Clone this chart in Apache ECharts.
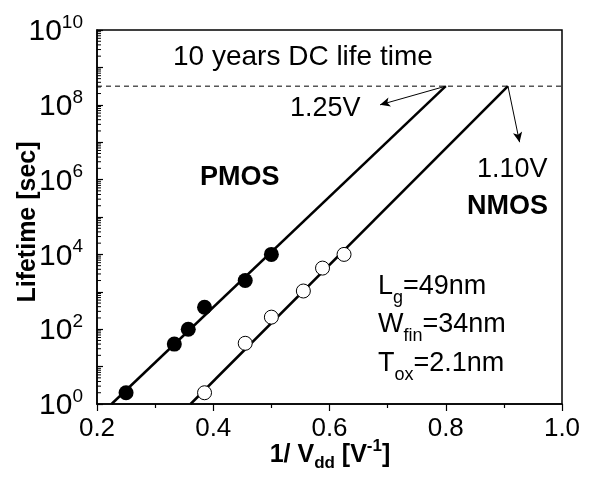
<!DOCTYPE html>
<html>
<head>
<meta charset="utf-8">
<script src="https://cdn.jsdelivr.net/npm/echarts@6/dist/echarts.min.js"></script>
<style>html,body{margin:0;padding:0;background:#fff}#c{width:593px;height:477px}</style>
</head>
<body>
<div id="c"></div>
<script>
// ---- data ----
const pmosX = [0.25, 0.333, 0.357, 0.385, 0.455, 0.5];
const pmosY = [2, 40, 100, 385, 2000, 10000];
const nmosX = [0.385, 0.455, 0.5, 0.555, 0.588, 0.625];
const nmosY = [2, 42, 210, 1050, 4300, 10000];
const pmosFitX = [0.225, 0.8];
const pmosFitY = [1, 3.15e8];
const nmosFitX = [0.361, 0.907];
const nmosFitY = [1, 3.15e8];
const tenYears = 3.15e8;           // 10 years DC life time [s]
const limitX = [0.2, 1.0];
const arrowP = [[0.8, 3.15e8], [0.687, 1e8]];
const arrowN = [[0.907, 3.15e8], [0.927, 1e7]];
const xTicks = [0.2, 0.4, 0.6, 0.8, 1.0];
const yDecades = [0,1,2,3,4,5,6,7,8,9,10];
const yLabelDecades = [0, 2, 4, 6, 8, 10];
const minorMult = [2,3,4,5,6,7,8,9];

const FONT = '"Liberation Sans", Arial, Helvetica, sans-serif';
const zip = (xs, ys) => xs.map((x, i) => [x, ys[i]]);

const minorVals = [];
yDecades.slice(0, -1).forEach(k => minorMult.forEach(m => minorVals.push([0.2, m * Math.pow(10, k)])));

const chart = echarts.init(document.getElementById('c'));
chart.setOption({
  animation: false,
  backgroundColor: '#fff',
  grid: { left: 97, right: 31, top: 30, bottom: 73, show: true, borderColor: '#000', borderWidth: 1.5 },
  xAxis: {
    type: 'value', min: xTicks[0], max: xTicks[xTicks.length - 1], interval: 0.2,
    axisLine: { lineStyle: { color: '#000', width: 1.5 } },
    axisTick: { inside: false, length: 7, lineStyle: { color: '#000', width: 1.2 } },
    minorTick: { show: true, splitNumber: 2, length: 4, lineStyle: { color: '#000', width: 1.2 } },
    splitLine: { show: false },
    axisLabel: { color: '#000', fontSize: 26, fontFamily: FONT, margin: 12, formatter: v => v.toFixed(1) }
  },
  yAxis: {
    type: 'log', logBase: 10, min: 1, max: 1e10, interval: 1,
    axisLine: { lineStyle: { color: '#000', width: 1.5 } },
    axisTick: { inside: true, length: 6, lineStyle: { color: '#000', width: 1.2 } },
    splitLine: { show: false },
    axisLabel: {
      margin: 14, color: '#000', fontFamily: FONT,
      formatter: v => {
        const n = Math.round(Math.log10(v));
        return yLabelDecades.indexOf(n) >= 0 ? '{b|10}{s|' + n + '}' : '';
      },
      rich: {
        b: { fontSize: 30, fontFamily: FONT, color: '#000', lineHeight: 34, verticalAlign: 'bottom' },
        s: { fontSize: 19, fontFamily: FONT, color: '#000', lineHeight: 34, verticalAlign: 'top', padding: [0, 0, 14, 0] }
      }
    }
  },
  series: [
    { type: 'custom', data: minorVals, silent: true, z: 20, clip: false,
      encode: { x: 0, y: 1 },
      renderItem: (params, api) => {
        const p = api.coord([api.value(0), api.value(1)]);
        return { type: 'line', shape: { x1: p[0], y1: p[1], x2: p[0] + 4, y2: p[1] },
                 style: { stroke: '#000', lineWidth: 1 } };
      } },
    { type: 'line', data: zip(limitX, [tenYears, tenYears]), symbol: 'none', silent: true,
      lineStyle: { color: '#000', width: 1, type: [5, 4] },
      markLine: {
        silent: true, symbol: ['none', 'arrow'], symbolSize: [7, 10],
        label: { show: false },
        lineStyle: { color: '#000', width: 1, type: 'solid' },
        data: [
          [{ coord: arrowP[0] }, { coord: arrowP[1] }],
          [{ coord: arrowN[0] }, { coord: arrowN[1] }]
        ]
      } },
    { type: 'line', data: zip(pmosFitX, pmosFitY), symbol: 'none', lineStyle: { color: '#000', width: 2.5 } },
    { type: 'line', data: zip(nmosFitX, nmosFitY), symbol: 'none', lineStyle: { color: '#000', width: 2.5 } },
    { type: 'scatter', data: zip(pmosX, pmosY), symbol: 'circle', symbolSize: 15,
      itemStyle: { color: '#000', opacity: 1 }, z: 10 },
    { type: 'scatter', data: zip(nmosX, nmosY), symbol: 'circle', symbolSize: 14,
      itemStyle: { color: '#fff', borderColor: '#000', borderWidth: 1, opacity: 1 }, z: 10 }
  ],
  graphic: [
    { type: 'text', x: 173, y: 57, style: { text: '10 years DC life time', font: '28px ' + FONT, fill: '#000', verticalAlign: 'middle' } },
    { type: 'text', x: 290, y: 109, style: { text: '1.25V', font: '27px ' + FONT, fill: '#000', verticalAlign: 'middle' } },
    { type: 'text', x: 477, y: 170, style: { text: '1.10V', font: '27px ' + FONT, fill: '#000', verticalAlign: 'middle' } },
    { type: 'text', x: 467, y: 207, style: { text: 'NMOS', font: 'bold 27px ' + FONT, fill: '#000', verticalAlign: 'middle' } },
    { type: 'text', x: 200, y: 178, style: { text: 'PMOS', font: 'bold 27px ' + FONT, fill: '#000', verticalAlign: 'middle' } },
    { type: 'text', x: 378, y: 290, style: {
        text: '{m|L}{u|g}{m|=49nm}', verticalAlign: 'middle',
        rich: { m: { fontSize: 27, fontFamily: FONT, fill: '#000', lineHeight: 34, verticalAlign: 'top' },
                u: { fontSize: 18, fontFamily: FONT, fill: '#000', lineHeight: 34, verticalAlign: 'bottom', padding: [10, 0, 0, 0] } } } },
    { type: 'text', x: 378, y: 328, style: {
        text: '{m|W}{u|fin}{m|=34nm}', verticalAlign: 'middle',
        rich: { m: { fontSize: 27, fontFamily: FONT, fill: '#000', lineHeight: 34, verticalAlign: 'top' },
                u: { fontSize: 18, fontFamily: FONT, fill: '#000', lineHeight: 34, verticalAlign: 'bottom', padding: [10, 0, 0, 0] } } } },
    { type: 'text', x: 378, y: 367, style: {
        text: '{m|T}{u|ox}{m|=2.1nm}', verticalAlign: 'middle',
        rich: { m: { fontSize: 27, fontFamily: FONT, fill: '#000', lineHeight: 34, verticalAlign: 'top' },
                u: { fontSize: 18, fontFamily: FONT, fill: '#000', lineHeight: 34, verticalAlign: 'bottom', padding: [10, 0, 0, 0] } } } },
    { type: 'text', x: 28, y: 222, rotation: Math.PI / 2, style: {
        text: 'Lifetime [sec]', font: 'bold 25px ' + FONT, fill: '#000', align: 'center', verticalAlign: 'middle' } },
    { type: 'text', x: 330, y: 455, style: {
        text: '{b|1/ V}{u|dd}{b| [V}{s|-1}{b|]}', align: 'center', verticalAlign: 'middle',
        rich: { b: { fontSize: 25, fontWeight: 'bold', fontFamily: FONT, fill: '#000', lineHeight: 34 },
                u: { fontSize: 17, fontWeight: 'bold', fontFamily: FONT, fill: '#000', lineHeight: 34, verticalAlign: 'bottom', padding: [12, 0, 0, 0] },
                s: { fontSize: 17, fontWeight: 'bold', fontFamily: FONT, fill: '#000', lineHeight: 34, verticalAlign: 'top', padding: [0, 0, 12, 0] } } } }
  ]
});
</script>
</body>
</html>
